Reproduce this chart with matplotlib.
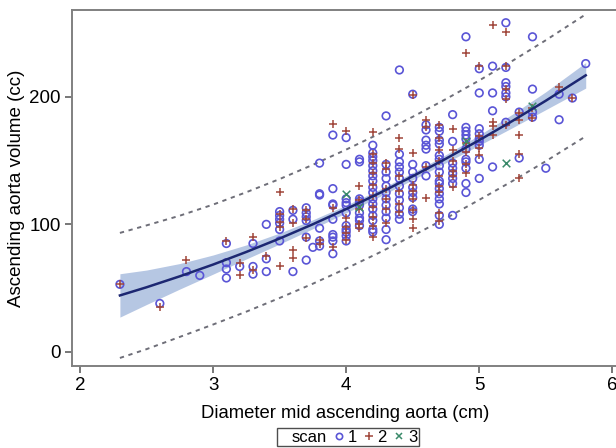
import matplotlib
matplotlib.use("Agg")
import matplotlib.pyplot as plt
from matplotlib.lines import Line2D

plt.rcParams['font.family'] = ['Liberation Sans', 'DejaVu Sans']

# scan 1 measurements: diameter (cm) -> volume (cc)
scan1_x = ([2.3, 2.6, 2.8, 2.9] + [3.1] * 4 + [3.2] + [3.3] * 3 + [3.4] * 3
           + [3.5] * 6 + [3.6] * 3 + [3.7] * 6 + [3.75] + [3.8] * 6 + [3.9] * 9
           + [4.0] * 11 + [4.1] * 9 + [4.2] * 17 + [4.3] * 12 + [4.4] * 12
           + [4.5] * 9 + [4.6] * 7 + [4.7] * 16 + [4.8] * 8 + [4.9] * 11
           + [5.0] * 9 + [5.1] * 4 + [5.2] * 7 + [5.3] * 2 + [5.4] * 4
           + [5.5, 5.6, 5.6, 5.7, 5.8])
scan1_y = [53, 38, 63, 60,
           85, 70, 65, 58,
           67,
           85, 67, 61,
           100, 73, 63,
           110, 107, 104, 101, 96, 87,
           111, 104, 63,
           113, 109, 106, 103, 90, 72,
           82,
           148, 124, 123, 97, 87, 83,
           170, 128, 116, 115, 104, 92, 90, 87, 77,
           168, 147, 120, 117, 115, 109, 99, 96, 94, 91, 87,
           151, 149, 120, 118, 115, 109, 105, 103, 99,
           162, 156, 153, 150, 146, 142, 138, 134, 129, 125, 120, 116, 112, 107, 103, 96, 94,
           185, 147, 141, 136, 130, 125, 120, 115, 110, 105, 96, 88,
           221, 155, 149, 145, 141, 136, 130, 124, 119, 113, 108, 104,
           202, 147, 141, 136, 129, 125, 121, 112, 110,
           178, 174, 166, 162, 159, 146, 138,
           176, 173, 166, 163, 154, 151, 146, 141, 134, 132, 128, 124, 120, 116, 107, 100,
           186, 165, 148, 144, 140, 136, 132, 107,
           247, 176, 173, 170, 167, 159, 151, 149, 144, 132, 125,
           222, 203, 175, 171, 167, 165, 162, 151, 136,
           224, 203, 189, 145,
           258, 223, 211, 208, 203, 200, 180,
           188, 152,
           247, 206, 188, 184,
           144, 202, 182, 199, 226]

# scan 2 measurements
scan2_x = ([2.3, 2.6, 2.8, 3.1, 3.2, 3.2, 3.3, 3.3, 3.4] + [3.5] * 5 + [3.6] * 4
           + [3.7] * 3 + [3.8] * 2 + [3.9] * 3 + [4.0] * 5 + [4.1] * 5
           + [4.2] * 10 + [4.3] * 6 + [4.4] * 6 + [4.5] * 8 + [4.6] * 4
           + [4.7] * 9 + [4.8] * 6 + [4.9] * 5 + [5.0] * 4 + [5.1] * 4
           + [5.2] * 5 + [5.3] * 5 + [5.4] * 2 + [5.6, 5.7])
scan2_y = [53, 35, 72, 87, 70, 60, 90, 64, 75,
           125, 108, 102, 98, 67,
           112, 101, 80, 74,
           111, 104, 89,
           88, 85,
           179, 82, 113,
           173, 105, 98, 93, 88,
           130, 119, 112, 100, 97,
           172, 155, 148, 140, 131, 122, 114, 106, 99, 90,
           148, 143, 128, 120, 112, 101,
           168, 159, 138, 126, 116, 110,
           201, 156, 131, 126, 120, 111, 104, 97,
           182, 176, 145, 121,
           178, 168, 158, 150, 138, 130, 125, 109, 103,
           175, 158, 150, 142, 138, 129,
           234, 164, 157, 147, 140,
           224, 169, 160, 154,
           256, 180, 177, 170,
           251, 224, 206, 198, 178,
           187, 182, 170, 155, 136,
           191, 183,
           208, 199]

# scan 3 measurements
scan3_x = [4.0, 4.1, 4.9, 5.2, 5.4]
scan3_y = [124, 114, 165, 148, 193]

# quadratic fit with confidence (clm) and prediction (cli) limits
fit_x = [2.3, 2.5, 2.75, 3.0, 3.25, 3.5, 3.75, 4.0, 4.25, 4.5, 4.75, 5.0, 5.25, 5.5, 5.8]
fit_y = [44.3, 50.7, 59.3, 68.5, 78.4, 88.9, 100.1, 112.0, 124.5, 137.7, 151.5, 166.0, 181.1, 196.9, 216.8]
clm_lo = [27.3, 37.2, 49.3, 61.0, 72.9, 84.6, 96.6, 109.0, 121.7, 134.9, 148.3, 162.0, 175.8, 189.9, 206.8]
clm_hi = [61.3, 64.2, 69.3, 76.0, 83.9, 93.2, 103.6, 115.0, 127.3, 140.5, 154.7, 170.0, 186.4, 203.9, 226.8]
cli_lo = [-4.7, 2.2, 11.8, 21.5, 31.6, 42.3, 53.5, 65.4, 77.9, 91.1, 104.8, 119.2, 134.0, 149.5, 169.0]
cli_hi = [93.3, 99.2, 106.8, 115.5, 125.2, 135.5, 146.7, 158.6, 171.1, 184.3, 198.2, 212.8, 228.2, 244.3, 264.6]

fig = plt.figure(figsize=(6.16, 4.48), dpi=100)
ax = fig.add_axes([72 / 616, 1 - 366 / 448, 547 / 616, 356 / 448])

ax.fill_between(fit_x, clm_lo, clm_hi, color='#aabddf', alpha=0.85, linewidth=0, zorder=1)
ax.scatter(scan1_x, scan1_y, s=30, facecolors='none', edgecolors='#5a55d6',
           linewidths=1.2, zorder=3)
ax.scatter(scan2_x, scan2_y, s=30, marker='+', color='#a0463a', linewidths=1.1, zorder=4)
ax.scatter(scan3_x, scan3_y, s=30, marker='x', color='#3a8a6a', linewidths=1.1, zorder=4)
ax.plot(fit_x, fit_y, color='#1c2772', lw=1.8, zorder=5)
ax.plot(fit_x, cli_lo, color='#6e6e78', lw=1.4, ls=(0, (2.2, 2.4)), zorder=2)
ax.plot(fit_x, cli_hi, color='#6e6e78', lw=1.4, ls=(0, (2.2, 2.4)), zorder=2)

ax.set_xlim(1.94, 6.05)
ax.set_ylim(-11, 268)
ax.set_xticks([2, 3, 4, 5, 6])
ax.set_yticks([0, 100, 200])
for side in ['left', 'right', 'top', 'bottom']:
    ax.spines[side].set_color('#808080')
    ax.spines[side].set_linewidth(1.4)
ax.tick_params(length=5, width=1.2, color='#606060', labelsize=13.5, pad=3)
ax.set_xlabel('Diameter mid ascending aorta (cm)', fontsize=13.3, labelpad=8)
ax.set_ylabel('Ascending aorta volume (cc)', fontsize=13.5, labelpad=3)

handles = [Line2D([], [], linestyle='none'),
           Line2D([], [], linestyle='none', marker='o', markersize=4.5, markerfacecolor='none',
                  markeredgecolor='#5a55d6', markeredgewidth=1.2),
           Line2D([], [], linestyle='none', marker='+', markersize=5.5, color='#a0463a',
                  markeredgewidth=1.1),
           Line2D([], [], linestyle='none', marker='x', markersize=4.5, color='#3a8a6a',
                  markeredgewidth=1.1)]
leg = fig.legend(handles, ['scan', '1', '2', '3'], loc='center', ncol=4,
                 bbox_to_anchor=(348 / 616, 1 - 437 / 448), fontsize=12,
                 handlelength=0.5, handletextpad=0.25, columnspacing=0.5,
                 borderpad=0.1, borderaxespad=0, fancybox=False, frameon=True)
leg.get_frame().set_edgecolor('#222222')
leg.get_frame().set_linewidth(1.0)

fig.savefig('out.png', dpi=100)
